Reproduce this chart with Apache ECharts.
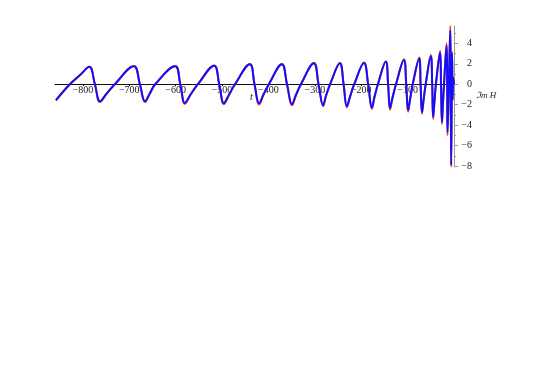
<!DOCTYPE html>
<html>
<head>
<meta charset="utf-8">
<script src="https://cdn.jsdelivr.net/npm/echarts@6/dist/echarts.min.js"></script>
<style>
  html, body { margin: 0; padding: 0; background: #fff; }
  #chart { width: 545px; height: 382px; }
</style>
</head>
<body>
<div id="chart"></div>
<script>
// time samples (shared by both curves)
let times = [
    -858, -828, -806, -786, -774, -763,
    -749, -731, -690, -677, -666,
    -656, -644, -601, -590, -580,
    -568, -552, -517, -506, -496,
    -485, -472, -440, -430, -420,
    -411, -399, -371, -360, -349,
    -341, -330, -302, -292, -282,
    -276, -267, -246, -238, -231,
    -224, -215, -194, -185, -177,
    -171.5, -164, -147, -142, -138,
    -132.5, -125, -108, -103, -99,
    -94.5, -89, -75, -72, -69,
    -65.5, -61, -50, -47, -45,
    -42.3, -39, -30, -28, -26,
    -24, -21.5, -16, -14.7, -14,
    -11, -8, -7, -6,
    -4, -3, -1.5, 0
];
// model waveform (blue)
let modelValues = [
    -1.55, 0, 0.9, 1.70, 0, -1.67,
    -0.92, 0, 1.76, 0, -1.67,
    -0.92, 0, 1.76, 0, -1.83,
    -1.00, 0, 1.82, 0, -1.86,
    -1.02, 0, 1.96, 0, -1.88,
    -1.03, 0, 1.96, 0, -1.96,
    -1.08, 0, 2.06, 0, -2.06,
    -1.13, 0, 2.06, 0, -2.16,
    -1.19, 0, 2.09, 0, -2.30,
    -1.26, 0, 2.19, 0, -2.35,
    -1.29, 0, 2.35, 0, -2.55,
    -1.40, 0, 2.52, 0, -2.75,
    -1.51, 0, 2.75, 0, -3.20,
    -1.76, 0, 3.10, 0, -3.70,
    -2.03, 0, 3.80, 0, -4.70,
    0, 5.30, 0, -7.90,
    3.0, -1.5, 0.6, 0
];
// reference waveform (orange)
let refValues = [
    -1.60, 0, 0.9, 1.72, 0, -1.75,
    -0.96, 0, 1.78, 0, -1.75,
    -0.96, 0, 1.78, 0, -1.92,
    -1.05, 0, 1.84, 0, -1.95,
    -1.07, 0, 1.98, 0, -1.98,
    -1.09, 0, 1.98, 0, -2.06,
    -1.13, 0, 2.08, 0, -2.16,
    -1.19, 0, 2.08, 0, -2.26,
    -1.24, 0, 2.12, 0, -2.42,
    -1.33, 0, 2.25, 0, -2.50,
    -1.37, 0, 2.45, 0, -2.70,
    -1.48, 0, 2.62, 0, -2.90,
    -1.59, 0, 2.85, 0, -3.40,
    -1.87, 0, 3.25, 0, -3.90,
    -2.15, 0, 4.00, 0, -5.00,
    0, 5.70, 0, -8.10,
    3.2, -1.6, 0.7, 0
];
let xTicks = [-800, -700, -600, -500, -400, -300, -200, -100];
let yTicks = [-8, -6, -4, -2, 0, 2, 4];
let yMinorTicks = [-7, -5, -3, -1, 1, 3, 5];

function pairs(values) {
    let out = [];
    for(let i = 0; i < times.length; i++) {
        out.push([times[i], values[i]]);
    }
    return out;
}
function minus(value) {
    return String(value).replace('-', '\u2212');
}

let font = '"Liberation Serif", "DejaVu Serif", serif';
let chart = echarts.init(document.getElementById('chart'));
chart.setOption({
    animation: false,
    backgroundColor: '#fff',
    grid: [
        { left: 55, right: 91, top: 26, bottom: 215 },
        // upper half only: its bottom edge is the t axis at Im H = 0
        { left: 55, right: 91, top: 26, bottom: 298 }
    ],
    xAxis: [{
        type: 'value',
        gridIndex: 0,
        min: -860,
        max: 0,
        show: false
    }, {
        type: 'value',
        gridIndex: 1,
        min: -860,
        max: 0,
        position: 'bottom',
        axisLine: { onZero: false, lineStyle: { color: '#111', width: 1 } },
        axisTick: { customValues: xTicks, length: 2, lineStyle: { color: '#111' } },
        axisLabel: {
            customValues: xTicks,
            margin: 1,
            fontFamily: font,
            fontSize: 10,
            color: '#222',
            formatter: minus
        },
        splitLine: { show: false }
    }],
    yAxis: [{
        type: 'value',
        gridIndex: 0,
        min: -8.1,
        max: 5.7,
        position: 'right',
        axisLine: { show: true, onZero: false, lineStyle: { color: '#999', width: 1 } },
        axisTick: { customValues: yTicks, length: 4, lineStyle: { color: '#999' } },
        axisLabel: {
            customValues: yTicks,
            margin: 18,
            align: 'right',
            fontFamily: font,
            fontSize: 10,
            color: '#222',
            formatter: minus
        },
        splitLine: { show: false }
    }, {
        type: 'value',
        gridIndex: 0,
        min: -8.1,
        max: 5.7,
        position: 'right',
        axisLine: { show: false, onZero: false },
        axisTick: { customValues: yMinorTicks, length: 2, lineStyle: { color: '#999' } },
        axisLabel: { show: false },
        splitLine: { show: false }
    }, {
        type: 'value',
        gridIndex: 1,
        show: false
    }],
    graphic: [{
        type: 'text',
        left: 250,
        top: 92,
        style: { text: 't', fontFamily: font, fontStyle: 'italic', fontSize: 10, fill: '#222' }
    }, {
        type: 'text',
        left: 476,
        top: 91,
        style: { text: '\u2111m H', fontFamily: font, fontStyle: 'italic', fontSize: 9, fill: '#222' }
    }],
    series: [{
        name: 'reference',
        type: 'line',
        data: pairs(refValues),
        showSymbol: false,
        smooth: 0.4,
        clip: false,
        lineStyle: { color: '#ff4a1a', width: 2 }
    }, {
        name: 'model',
        type: 'line',
        data: pairs(modelValues),
        showSymbol: false,
        smooth: 0.4,
        clip: false,
        lineStyle: { color: '#1010ff', width: 2 }
    }]
});
</script>
</body>
</html>
